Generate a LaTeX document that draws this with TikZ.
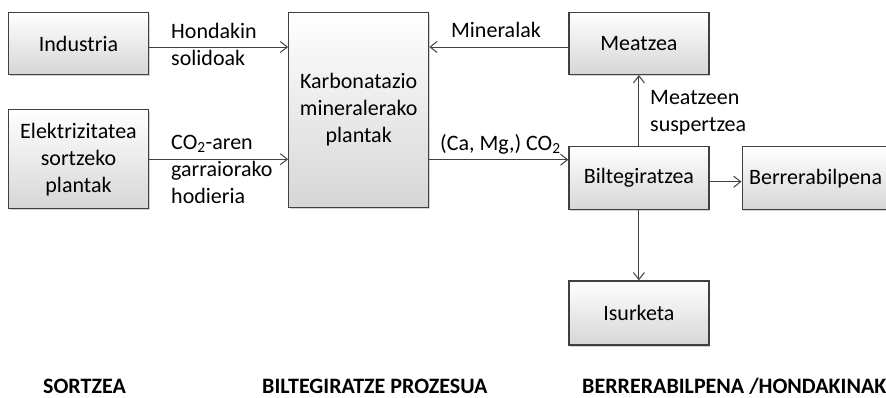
\documentclass[tikz,border=0pt]{standalone}
\usepackage{fontspec}
\setmainfont{Carlito}
\usetikzlibrary{positioning,arrows.meta,shadows}

\begin{document}
\begin{tikzpicture}[x=1pt,y=1pt,
  procbox/.style={draw=black!75, line width=1.2pt, top color=white, bottom color=black!16,
    drop shadow={shadow xshift=1.2pt, shadow yshift=-1.6pt, opacity=0.35},
    minimum width=140pt, minimum height=62pt, align=center,
    font=\fontsize{22}{27}\selectfont},
  lbl/.style={align=left, inner sep=0pt, font=\fontsize{22}{27}\selectfont},
  headlbl/.style={inner sep=0pt, font=\fontsize{22}{27}\selectfont\bfseries},
  flow/.style={draw=black!75, line width=1pt, -{Straight Barb[length=7pt,width=11pt]}}]
\useasboundingbox (0,0) rectangle (886,-397);

% boxes
\node[procbox] (ind) at (78.5,-43.5) {Industria};
\node[procbox, minimum height=99pt, below=34pt of ind] (elek) {Elektrizitatea\\sortzeko\\plantak};
\node[procbox, minimum height=195pt, anchor=north west] (karb) at ([xshift=139pt]ind.north east) {Karbonatazio\\mineralerako\\plantak};
\node[procbox, anchor=north west] (meat) at ([xshift=139pt]karb.north east) {Meatzea};
\node[procbox, minimum height=63pt, below=71pt of meat] (bilt) {Biltegiratzea};
\node[procbox, minimum height=63pt, align=left, text width=140pt, inner xsep=7pt, right=32pt of bilt] (berr) {Berrerabilpena};
\node[procbox, minimum height=64pt, below=70pt of bilt] (isur) {Isurketa};

% connectors
\draw[flow] ([yshift=-3.5pt]ind.east) -- ([yshift=-3.5pt]ind.east -| karb.west);
\draw[flow] (elek.east) -- (elek.east -| karb.west);
\draw[flow] ([yshift=-3.5pt]meat.west) -- ([yshift=-3.5pt]meat.west -| karb.east);
\draw[flow] ([yshift=18.5pt]bilt.west -| karb.east) -- ([yshift=18.5pt]bilt.west);
\draw[flow] (bilt.north) -- (meat.south);
\draw[flow] ([yshift=-3.5pt]bilt.east) -- ([yshift=-3.5pt]bilt.east -| berr.west);
\draw[flow] (bilt.south) -- (isur.north);

% connector labels (base = last line)
\node[lbl, anchor=base west] (hondlbl) at (171,-65) {Hondakin\\solidoak};
\node[lbl, anchor=base west] (co2lbl) at (171,-203) {CO\textsubscript{2}-aren\\garraiorako\\hodieria};
\node[lbl, anchor=base] (minlbl) at (496,-37) {Mineralak};
\node[lbl, anchor=base west] (carblbl) at (440,-150) {(Ca, Mg,) CO\textsubscript{2}};
\node[lbl, anchor=base west] (susplbl) at (650,-131) {Meatzeen\\suspertzea};

% stage titles
\node[headlbl, anchor=base west] (sortz) at (43,-393) {SORTZEA};
\node[headlbl, anchor=base west] (prozes) at (262,-393) {BILTEGIRATZE PROZESUA};
\node[headlbl, anchor=base west] (hondak) at (582,-393) {BERRERABILPENA /HONDAKINAK};
\end{tikzpicture}
\end{document}
